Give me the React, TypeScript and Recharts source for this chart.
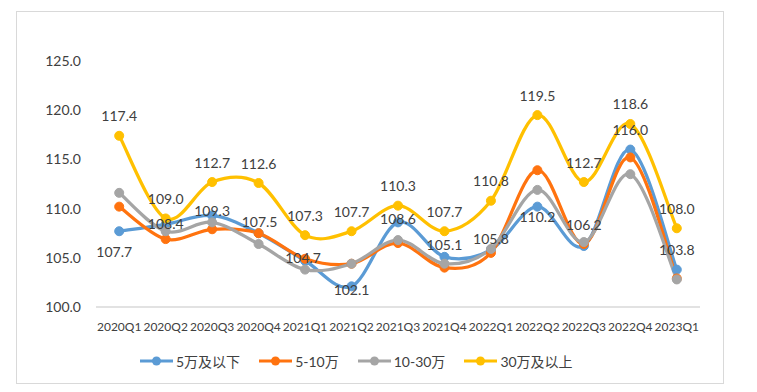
import React from 'react';
import { LineChart, Line, XAxis, YAxis, Legend, LabelList } from 'recharts';

const categories = ['2020Q1','2020Q2','2020Q3','2020Q4','2021Q1','2021Q2','2021Q3','2021Q4','2022Q1','2022Q2','2022Q3','2022Q4','2023Q1'];
const below5 = [107.7,108.4,109.3,107.5,104.7,102.1,108.6,105.1,105.8,110.2,106.2,116.0,103.8];
const from5to10 = [110.2,106.9,107.9,107.5,104.9,104.4,106.5,104.0,105.5,113.9,106.4,115.2,102.9];
const from10to30 = [111.6,107.7,108.6,106.4,103.8,104.4,106.8,104.4,105.9,111.9,106.6,113.5,102.8];
const above30 = [117.4,109.0,112.7,112.6,107.3,107.7,110.3,107.7,110.8,119.5,112.7,118.6,108.0];
const yTicks = [100, 105, 110, 115, 120, 125];

const seriesNames = ['5万及以下', '5-10万', '10-30万', '30万及以上'];
const seriesColors = ['#5B9BD5', '#FF730F', '#A5A5A5', '#FFC000'];

// label vertical offsets (style only)
const blueLabelDy = [20, -1, -5, -12, -3, 3, -4, -12, -11, 10, -21, -20, -20];
const blueLabelDx = [-5, 0, 0, 1, -2, 0, 0, 0, 0, 0, 0, 0, 0];

const data = categories.map((c, i) => ({
  name: c,
  a: below5[i],
  b: from5to10[i],
  c: from10to30[i],
  d: above30[i],
}));

const FONT = "Lato, 'Noto Sans CJK SC', sans-serif";
const TEXT = '#404040';

const excelCurve = (context: any) => {
  let pts: [number, number][] = [];
  return {
    areaStart() {},
    areaEnd() {},
    lineStart() { pts = []; },
    point(x: number, y: number) { pts.push([+x, +y]); },
    lineEnd() {
      const n = pts.length;
      if (!n) return;
      context.moveTo(pts[0][0], pts[0][1]);
      for (let i = 0; i < n - 1; i++) {
        const p0 = pts[i - 1] || pts[i];
        const p1 = pts[i];
        const p2 = pts[i + 1];
        const p3 = pts[i + 2] || p2;
        context.bezierCurveTo(
          p1[0] + (p2[0] - p0[0]) / 6, p1[1] + (p2[1] - p0[1]) / 6,
          p2[0] - (p3[0] - p1[0]) / 6, p2[1] - (p3[1] - p1[1]) / 6,
          p2[0], p2[1]
        );
      }
    },
  };
};

const makeLabel = (dys: number[] | null, dxs: number[] | null) => (props: any) => {
  const { x, y, value, index } = props;
  const dy = dys ? dys[index] : -20;
  const dx = dxs ? dxs[index] : 0;
  return (
    <text x={x + dx} y={y + dy} textAnchor="middle" dominantBaseline="central"
      fontFamily={FONT} fontSize={14} fill={TEXT}>
      {Number(value).toFixed(1)}
    </text>
  );
};

const LegendContent = () => (
  <div style={{ display: 'flex', alignItems: 'center', height: 40, paddingLeft: 132, fontFamily: FONT, fontSize: 14, color: TEXT }}>
    {seriesNames.map((n, i) => (
      <div key={n} style={{ display: 'flex', alignItems: 'center', marginRight: 19 }}>
        <svg width={33} height={12} style={{ marginRight: 3 }}>
          <line x1={0} y1={6} x2={33} y2={6} stroke={seriesColors[i]} strokeWidth={3} />
          <circle cx={16.5} cy={6} r={4.5} fill={seriesColors[i]} />
        </svg>
        <span>{n}</span>
      </div>
    ))}
  </div>
);

export default function App() {
  const keys = ['a', 'b', 'c', 'd'];
  return (
    <div style={{ position: 'relative', width: 741, height: 376 }}>
      <div style={{ position: 'absolute', left: 8, top: 3, width: 708, height: 373, border: '1px solid #d9d9d9', boxSizing: 'border-box' }} />
      <LineChart width={741} height={376} data={data} margin={{ top: 53, right: 49, left: 28, bottom: 3 }}>
        <XAxis dataKey="name" interval={0} padding={{ left: 23.2, right: 23.2 }}
          axisLine={{ stroke: '#d9d9d9', strokeWidth: 1.5 }} tickLine={false} tickSize={6} tickMargin={9}
          height={34} tick={{ fontFamily: FONT, fontSize: 12, fill: TEXT }} />
        <YAxis domain={[100, 125]} ticks={yTicks} interval={0} width={60} axisLine={false} tickLine={false}
          tickSize={6} tickMargin={9} tickFormatter={(v: number) => v.toFixed(1)}
          tick={{ fontFamily: FONT, fontSize: 14, fill: TEXT }} />
        <Legend verticalAlign="bottom" height={40} wrapperStyle={{ left: 0, width: 741 }} content={<LegendContent />} />
        {keys.map((k, i) => (
          <Line key={k} dataKey={k} name={seriesNames[i]} type={excelCurve as any} stroke={seriesColors[i]}
            strokeWidth={3.25} dot={{ r: 4.5, fill: seriesColors[i], stroke: seriesColors[i], strokeWidth: 1 }}
            activeDot={false} isAnimationActive={false}>
            {k === 'a' && <LabelList dataKey="a" content={makeLabel(blueLabelDy, blueLabelDx)} />}
            {k === 'd' && <LabelList dataKey="d" content={makeLabel(null, null)} />}
          </Line>
        ))}
      </LineChart>
    </div>
  );
}
